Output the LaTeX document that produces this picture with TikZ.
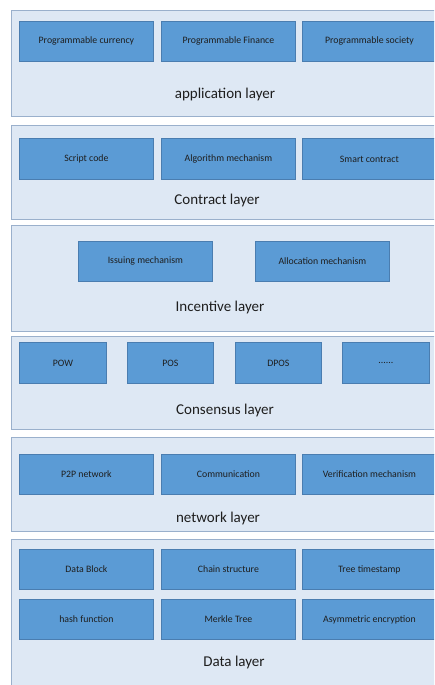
\documentclass[tikz,border=0pt]{standalone}
\usepackage{fontspec}
\setmainfont{Carlito}
\definecolor{layerfill}{HTML}{DEE8F4}
\definecolor{layerline}{HTML}{9AB0CC}
\definecolor{boxfill}{HTML}{5B9BD5}
\definecolor{boxline}{HTML}{4A7DB0}
\definecolor{ink}{HTML}{1E1E1E}
\begin{document}
\begin{tikzpicture}[x=1pt,y=-1pt,
  layer/.style={draw=layerline, fill=layerfill, line width=1.3pt, anchor=north west,
                minimum width=429pt, inner sep=0pt},
  item/.style={draw=boxline, fill=boxfill, line width=0.8pt, text=ink, anchor=north west,
               font=\fontsize{9.8}{11}\selectfont, inner sep=0pt, minimum height=40pt},
  wide/.style={item, minimum width=134pt},
  narrow/.style={item, minimum width=87pt},
  title/.style={text=ink, font=\fontsize{15}{17}\selectfont, inner sep=0pt}]
\useasboundingbox (0,0) rectangle (434,685);
\fill[white] (0,0) rectangle (434,685);
\clip (0,0) rectangle (434,685);

% application layer
\node[layer, minimum height=106pt] (appL) at (11,10) {};
\node[wide] (a1) at (19,21)  {Programmable currency};
\node[wide] (a2) at (161,21) {Programmable Finance};
\node[wide] (a3) at (302,21) {Programmable society};
\node[title] (appT) at (225,95) {application layer};

% contract layer
\node[layer, minimum height=94pt] (conL) at (11,125) {};
\node[wide, minimum height=41pt] (c1) at (19,138)  {Script code};
\node[wide, minimum height=41pt] (c2) at (161,138) {Algorithm mechanism};
\node[wide, minimum height=41pt] (c3) at (302,138) {Smart contract};
\node[title] (conT) at (217,200) {Contract layer};

% incentive layer
\node[layer, minimum height=106pt] (incL) at (11,225) {};
\node[wide] (i1) at (78,241)  {Issuing mechanism};
\node[wide] (i2) at (255,241) {Allocation mechanism};
\node[title] (incT) at (220,307) {Incentive layer};

% consensus layer
\node[layer, minimum height=93pt] (csL) at (11,336) {};
\node[narrow, minimum height=41pt] (s1) at (19,342)  {POW};
\node[narrow, minimum height=41pt, minimum width=86pt] (s2) at (127,342) {POS};
\node[narrow, minimum height=41pt, minimum width=86pt] (s3) at (235,342) {DPOS};
\node[narrow, minimum height=41pt] (s4) at (342,342) {......};
\node[title] (csT) at (225,410) {Consensus layer};

% network layer
\node[layer, minimum height=94pt] (netL) at (11,437) {};
\node[wide] (n1) at (19,454)  {P2P network};
\node[wide] (n2) at (161,454) {Communication};
\node[wide] (n3) at (302,454) {Verification mechanism};
\node[title] (netT) at (218,518) {network layer};

% data layer
\node[layer, minimum height=170pt] (datL) at (11,539) {};
\node[wide] (d1) at (19,549)  {Data Block};
\node[wide] (d2) at (161,549) {Chain structure};
\node[wide] (d3) at (302,549) {Tree timestamp};
\node[wide] (d4) at (19,599)  {hash function};
\node[wide] (d5) at (161,599) {Merkle Tree};
\node[wide] (d6) at (302,599) {Asymmetric encryption};
\node[title] (datT) at (234,662) {Data layer};
\end{tikzpicture}
\end{document}
